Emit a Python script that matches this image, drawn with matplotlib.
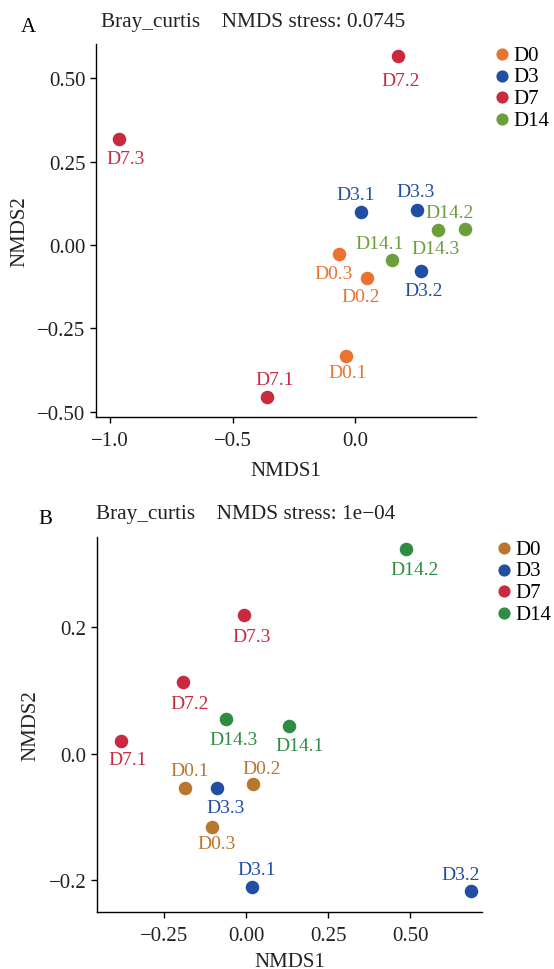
import numpy as np
import matplotlib.pyplot as plt
import matplotlib as mpl

mpl.rcParams['font.family'] = ['Liberation Serif', 'DejaVu Serif']

# Panel A data (Bray-Curtis NMDS, stress 0.0745)
a_samples = ['D0.1', 'D0.2', 'D0.3', 'D3.1', 'D3.2', 'D3.3',
             'D7.1', 'D7.2', 'D7.3', 'D14.1', 'D14.2', 'D14.3']
a_nmds1 = [-0.040, 0.048, -0.065, 0.022, 0.266, 0.253,
           -0.361, 0.173, -0.964, 0.150, 0.446, 0.335]
a_nmds2 = [-0.333, -0.099, -0.028, 0.098, -0.079, 0.106,
           -0.457, 0.566, 0.318, -0.044, 0.049, 0.045]

# Panel B data (Bray-Curtis NMDS, stress 1e-04)
b_samples = ['D0.1', 'D0.2', 'D0.3', 'D3.1', 'D3.2', 'D3.3',
             'D7.1', 'D7.2', 'D7.3', 'D14.1', 'D14.2', 'D14.3']
b_nmds1 = [-0.186, 0.021, -0.105, 0.016, 0.685, -0.090,
           -0.381, -0.194, -0.008, 0.129, 0.487, -0.061]
b_nmds2 = [-0.054, -0.049, -0.116, -0.211, -0.218, -0.054,
           0.020, 0.113, 0.219, 0.043, 0.324, 0.054]

groups = ['D0', 'D3', 'D7', 'D14']
colors_a = {'D0': '#E8742F', 'D3': '#1F4EA3', 'D7': '#C92A40', 'D14': '#6C9E3C'}
colors_b = {'D0': '#B97631', 'D3': '#1F4EA3', 'D7': '#C92A40', 'D14': '#2F8C45'}

# label offsets in pixels (dx right, dy down), like ggrepel placement
offs_a = {'D0.1': (2, 16), 'D0.2': (-7, 19), 'D0.3': (-6, 19), 'D3.1': (-5, -18),
          'D3.2': (3, 19), 'D3.3': (-2, -18), 'D7.1': (8, -18), 'D7.2': (3, 24),
          'D7.3': (7, 20), 'D14.1': (-13, -16), 'D14.2': (-15, -16), 'D14.3': (-2, 19)}
offs_b = {'D0.1': (4, -17), 'D0.2': (8, -16), 'D0.3': (5, 17), 'D3.1': (5, -17),
          'D3.2': (-11, -17), 'D3.3': (9, 20), 'D7.1': (6, 19), 'D7.2': (7, 21),
          'D7.3': (8, 21), 'D14.1': (11, 19), 'D14.2': (8, 21), 'D14.3': (7, 20)}

W, H = 554, 970
fig = plt.figure(figsize=(W / 100, H / 100), dpi=100, facecolor='white')


def px_axes(l, t, r, b):
    return fig.add_axes([l / W, 1 - b / H, (r - l) / W, (b - t) / H])


def draw_panel(ax, samples, x, y, colors, offs, xlim, ylim, xticks, yticks, fmt_x, fmt_y, xpad):
    grp = [s.split('.')[0] for s in samples]
    for g in groups:
        idx = [i for i, gg in enumerate(grp) if gg == g]
        ax.scatter([x[i] for i in idx], [y[i] for i in idx], s=95, color=colors[g],
                   linewidths=0, label=g, zorder=3)
    for i, s in enumerate(samples):
        dx, dy = offs[s]
        ax.annotate(s, (x[i], y[i]), xytext=(dx, -dy), textcoords='offset pixels',
                    ha='center', va='center', fontsize=14, color=colors[grp[i]])
    ax.set_xlim(*xlim)
    ax.set_ylim(*ylim)
    ax.set_xticks(xticks)
    ax.set_yticks(yticks)
    ax.set_xticklabels([fmt_x.format(v).replace('-', '\u2212') for v in xticks])
    ax.set_yticklabels([fmt_y.format(v).replace('-', '\u2212') for v in yticks])
    for sp in ['top', 'right']:
        ax.spines[sp].set_visible(False)
    for sp in ['left', 'bottom']:
        ax.spines[sp].set_linewidth(1.0)
        ax.spines[sp].set_color('black')
    ax.tick_params(length=4, width=1.0, labelsize=15, colors='black', labelcolor='#222222')
    ax.tick_params(axis='x', pad=6)
    ax.set_xlabel('NMDS1', fontsize=15, color='#222222', labelpad=xpad)
    ax.set_ylabel('NMDS2', fontsize=15, color='#222222', labelpad=6)


def add_legend(ax, x0, y0):
    ax.legend(loc='upper left', bbox_to_anchor=(x0 / W, 1 - y0 / H), bbox_transform=fig.transFigure,
              frameon=False, fontsize=15, handletextpad=-0.05, labelspacing=0.1,
              borderpad=0, handlelength=1.2, borderaxespad=0, markerscale=0.9)


axA = px_axes(96, 45, 476, 418)
draw_panel(axA, a_samples, a_nmds1, a_nmds2, colors_a, offs_a,
           (-1.058, 0.492), (-0.516, 0.603),
           [-1.0, -0.5, 0.0], [-0.50, -0.25, 0.00, 0.25, 0.50], '{:.1f}', '{:.2f}', 8)
add_legend(axA, 489, 46)

axB = px_axes(97, 538, 482, 913)
draw_panel(axB, b_samples, b_nmds1, b_nmds2, colors_b, offs_b,
           (-0.455, 0.718), (-0.251, 0.343),
           [-0.25, 0.0, 0.25, 0.50], [-0.2, 0.0, 0.2], '{:.2f}', '{:.1f}', 5)
add_legend(axB, 491, 540)

fig.text(21 / W, 1 - 27 / H, 'A', fontsize=15, va='center', ha='left')
fig.text(101 / W, 1 - 22 / H, 'Bray_curtis    NMDS stress: 0.0745', fontsize=15.3,
         va='center', ha='left', color='#222222')
fig.text(38 / W, 1 - 520 / H, 'B', fontsize=15, va='center', ha='left')
fig.text(96 / W, 1 - 515 / H, 'Bray_curtis    NMDS stress: 1e\u221204', fontsize=15.3,
         va='center', ha='left', color='#222222')

fig.savefig('out.png', dpi=100, facecolor='white')
